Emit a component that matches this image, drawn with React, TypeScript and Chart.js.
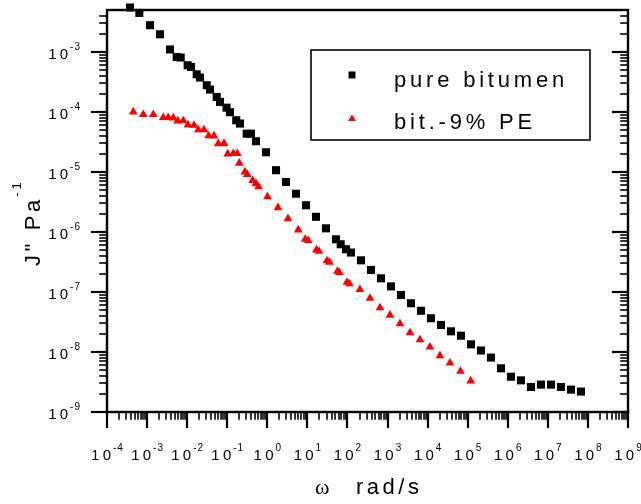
import { useEffect, useRef } from 'react';
import { Chart, registerables } from 'chart.js';

Chart.register(...registerables);

// pure bitumen: angular frequency (rad/s) and J'' (1/Pa)
const bitumenOmega = [3.75e-4, 6.4e-4, 1.18e-3, 2.1e-3, 3.73e-3, 5.48e-3, 6.9e-3, 1.03e-2, 1.25e-2, 1.73e-2, 2.09e-2, 3.08e-2, 3.72e-2, 5.46e-2, 6.6e-2, 9.6e-2, 0.117, 0.168, 0.208, 0.306, 0.392, 0.522, 0.927, 1.65, 2.92, 5.2, 9.23, 16.4, 29.1, 51.7, 67.8, 91.9, 122, 217, 386, 686, 1219, 2163, 3846, 6823, 12130, 21530, 38280, 67920, 1.21e5, 2.14e5, 3.81e5, 6.76e5, 1.2e6, 2.13e6, 3.79e6, 6.73e6, 1.2e7, 2.12e7, 3.78e7, 6.7e7];
const bitumenJ = [5.5e-3, 4.47e-3, 2.79e-3, 1.97e-3, 1.1e-3, 8.26e-4, 8.07e-4, 6.0e-4, 5.62e-4, 4.25e-4, 3.74e-4, 2.79e-4, 2.36e-4, 1.78e-4, 1.47e-4, 1.18e-4, 9.9e-5, 7.27e-5, 6.41e-5, 4.34e-5, 4.34e-5, 3.25e-5, 2.13e-5, 1.07e-5, 6.81e-6, 4.34e-6, 2.79e-6, 1.79e-6, 1.15e-6, 7.55e-7, 6.24e-7, 5.16e-7, 4.54e-7, 3.37e-7, 2.33e-7, 1.69e-7, 1.24e-7, 8.9e-8, 6.49e-8, 4.86e-8, 3.65e-8, 2.82e-8, 2.21e-8, 1.87e-8, 1.34e-8, 1.06e-8, 8.07e-9, 5.35e-9, 3.87e-9, 3.37e-9, 2.61e-9, 2.86e-9, 2.86e-9, 2.61e-9, 2.36e-9, 2.19e-9];

// bitumen - 9% PE
const peOmega = [4.53e-4, 8.05e-4, 1.43e-3, 2.54e-3, 3.38e-3, 4.51e-3, 5.81e-3, 8.02e-3, 1.05e-2, 1.48e-2, 1.9e-2, 2.63e-2, 3.44e-2, 4.68e-2, 5.98e-2, 8.3e-2, 0.103, 0.142, 0.178, 0.2, 0.277, 0.316, 0.431, 0.522, 0.603, 1.01, 1.85, 3.28, 5.93, 8.87, 10.5, 16.9, 19.5, 30.8, 35.6, 56.4, 63.2, 97.3, 112, 205, 365, 647, 1150, 2043, 3631, 6442, 11450, 20320, 36140, 66070, 1.19e5];
const peJ = [1.0e-4, 9.06e-5, 9.06e-5, 8.07e-5, 8.07e-5, 7.94e-5, 7.08e-5, 7.13e-5, 6.07e-5, 6.0e-5, 5.05e-5, 5.05e-5, 4.01e-5, 3.98e-5, 2.97e-5, 3.0e-5, 2.0e-5, 2.03e-5, 2.03e-5, 1.4e-5, 1.0e-5, 9.06e-6, 7.2e-6, 6.41e-6, 5.66e-6, 3.86e-6, 2.55e-6, 1.67e-6, 1.08e-6, 7.55e-7, 7.2e-7, 5.04e-7, 4.76e-7, 3.31e-7, 3.13e-7, 2.21e-7, 2.09e-7, 1.45e-7, 1.37e-7, 1.1e-7, 7.85e-8, 5.46e-8, 4.12e-8, 2.97e-8, 2.09e-8, 1.6e-8, 1.21e-8, 8.71e-9, 6.56e-9, 4.77e-9, 3.29e-9];

const seriesLabels = ['pure bitumen', 'bit.-9% PE'];
const xTickExponents = [-4, -3, -2, -1, 0, 1, 2, 3, 4, 5, 6, 7, 8, 9];
const yTickExponents = [-9, -8, -7, -6, -5, -4, -3];
const xMin = 1e-4;
const xMax = 1e9;
const yMin = 1e-9;
const yMax = 5e-3;
const xTitleSymbol = 'ω';
const xTitleUnit = 'rad/s';
const yTitleMain = 'J" Pa';
const yTitleExp = '-1';

const SANS = '"Liberation Sans", Arial, sans-serif';
const SERIF = '"Liberation Serif", "Times New Roman", serif';

function spacedWidth(ctx: CanvasRenderingContext2D, text: string, sp: number) {
  let w = 0;
  const chars = Array.from(text);
  chars.forEach((ch, i) => {
    w += ctx.measureText(ch).width + (i < chars.length - 1 ? sp : 0);
  });
  return w;
}
function drawSpaced(ctx: CanvasRenderingContext2D, text: string, x: number, y: number, sp: number) {
  let cx = x;
  for (const ch of Array.from(text)) {
    ctx.fillText(ch, cx, y);
    cx += ctx.measureText(ch).width + sp;
  }
  return cx - sp;
}

const BASE_FONT = `15px ${SANS}`;
const EXP_FONT = `10px ${SANS}`;
const BASE_SP = 3.2;
const EXP_SP = 1;
const EXP_GAP = 2;

function powWidth(ctx: CanvasRenderingContext2D, exp: string) {
  ctx.font = BASE_FONT;
  const bw = spacedWidth(ctx, '10', BASE_SP);
  ctx.font = EXP_FONT;
  const ew = spacedWidth(ctx, exp, EXP_SP);
  return { bw, ew, total: bw + EXP_GAP + ew };
}
function drawPow(ctx: CanvasRenderingContext2D, exp: string, left: number, baseline: number) {
  const { bw } = powWidth(ctx, exp);
  ctx.font = BASE_FONT;
  drawSpaced(ctx, '10', left, baseline, BASE_SP);
  ctx.font = EXP_FONT;
  drawSpaced(ctx, exp, left + bw + EXP_GAP, baseline - 9, EXP_SP);
}

function line(ctx: CanvasRenderingContext2D, x1: number, y1: number, x2: number, y2: number) {
  ctx.beginPath();
  ctx.moveTo(x1, y1);
  ctx.lineTo(x2, y2);
  ctx.stroke();
}

const originAxes = {
  id: 'originAxes',
  beforeDatasetsDraw(chart: any) {
    const { ctx, chartArea: a, scales } = chart;
    const xs = scales.x;
    const ys = scales.y;
    ctx.save();
    ctx.strokeStyle = '#000';
    ctx.lineCap = 'square';
    // minor ticks
    ctx.lineWidth = 1.6;
    for (const e of xTickExponents) {
      if (e === xTickExponents[xTickExponents.length - 1]) break;
      for (let m = 2; m <= 9; m++) {
        const px = Math.round(xs.getPixelForValue(m * Math.pow(10, e)));
        line(ctx, px, a.bottom, px, a.bottom + 7);
      }
    }
    for (const e of yTickExponents) {
      for (let m = 2; m <= 9; m++) {
        const v = m * Math.pow(10, e);
        if (v >= yMax) continue;
        const py = Math.round(ys.getPixelForValue(v));
        line(ctx, a.left, py, a.left - 7, py);
        line(ctx, a.right, py, a.right - 7, py);
      }
    }
    // major ticks
    ctx.lineWidth = 2.2;
    for (const e of xTickExponents) {
      const px = Math.round(xs.getPixelForValue(Math.pow(10, e)));
      line(ctx, px, a.bottom, px, a.bottom + 15);
    }
    for (const e of yTickExponents) {
      const py = Math.round(ys.getPixelForValue(Math.pow(10, e)));
      line(ctx, a.left, py, a.left - 15, py);
      line(ctx, a.right, py, a.right - 15, py);
    }
    // frame
    ctx.lineCap = 'butt';
    ctx.lineWidth = 2.4;
    ctx.strokeRect(a.left, a.top, a.right - a.left, a.bottom - a.top);
    ctx.restore();
  },
  afterDraw(chart: any) {
    const { ctx, chartArea: a, scales } = chart;
    const xs = scales.x;
    const ys = scales.y;
    ctx.save();
    ctx.fillStyle = '#000';
    ctx.textAlign = 'left';
    ctx.textBaseline = 'alphabetic';
    // x tick labels
    for (const e of xTickExponents) {
      const px = xs.getPixelForValue(Math.pow(10, e));
      const exp = String(e);
      const { total } = powWidth(ctx, exp);
      drawPow(ctx, exp, px - total / 2, a.bottom + 48);
    }
    // y tick labels
    for (const e of yTickExponents) {
      const py = ys.getPixelForValue(Math.pow(10, e));
      const exp = String(e);
      const { total } = powWidth(ctx, exp);
      drawPow(ctx, exp, 80 - total, py + 7);
    }
    // x title
    ctx.font = `22px ${SERIF}`;
    ctx.fillText(xTitleSymbol, 315, 494);
    ctx.font = `22px ${SANS}`;
    drawSpaced(ctx, xTitleUnit, 356, 494, 3.5);
    // y title (rotated)
    ctx.save();
    ctx.translate(40, 266);
    ctx.rotate(-Math.PI / 2);
    ctx.font = `22px ${SANS}`;
    const end = drawSpaced(ctx, yTitleMain, 0, 0, 3.6);
    ctx.font = `13px ${SANS}`;
    drawSpaced(ctx, yTitleExp, end + 3, -19, 3);
    ctx.restore();
    // legend
    ctx.lineWidth = 1.6;
    ctx.strokeStyle = '#000';
    ctx.strokeRect(311, 50, 279, 90);
    ctx.fillStyle = '#000';
    ctx.fillRect(348.5, 71.5, 7, 7);
    ctx.fillStyle = '#ff0000';
    ctx.beginPath();
    ctx.moveTo(352, 114.5);
    ctx.lineTo(356, 121);
    ctx.lineTo(348, 121);
    ctx.closePath();
    ctx.fill();
    ctx.fillStyle = '#000';
    ctx.font = `22px ${SANS}`;
    drawSpaced(ctx, seriesLabels[0], 394, 87, 3.8);
    drawSpaced(ctx, seriesLabels[1], 394, 128.5, 3.8);
    ctx.restore();
  },
};

export default function App() {
  const ref = useRef<HTMLCanvasElement>(null);
  useEffect(() => {
    const canvas = ref.current;
    if (!canvas) return;
    const chart = new Chart(canvas, {
      type: 'scatter',
      data: {
        datasets: [
          {
            label: seriesLabels[0],
            data: bitumenOmega.map((w, i) => ({ x: w, y: bitumenJ[i] })),
            pointStyle: 'rect',
            pointRadius: 5.7,
            pointBackgroundColor: '#000000',
            pointBorderColor: '#000000',
            pointBorderWidth: 0,
            showLine: false,
            clip: false,
          },
          {
            label: seriesLabels[1],
            data: peOmega.map((w, i) => ({ x: w, y: peJ[i] })),
            pointStyle: 'triangle',
            pointRadius: 5.1,
            pointBackgroundColor: '#ff0000',
            pointBorderColor: '#ff0000',
            pointBorderWidth: 0,
            showLine: false,
            clip: false,
          },
        ],
      },
      options: {
        responsive: false,
        animation: false,
        devicePixelRatio: 1,
        events: [],
        layout: { padding: { left: 107, right: 13, top: 10, bottom: 92 } },
        scales: {
          x: { type: 'logarithmic', min: xMin, max: xMax, display: false },
          y: { type: 'logarithmic', min: yMin, max: yMax, display: false },
        },
        plugins: { legend: { display: false }, tooltip: { enabled: false } },
      } as any,
      plugins: [originAxes],
    });
    return () => chart.destroy();
  }, []);
  return (
    <div style={{ position: 'absolute', left: 0, top: 0, width: 641, height: 504, background: '#fff' }}>
      <canvas ref={ref} width={641} height={504} style={{ display: 'block' }} />
    </div>
  );
}
